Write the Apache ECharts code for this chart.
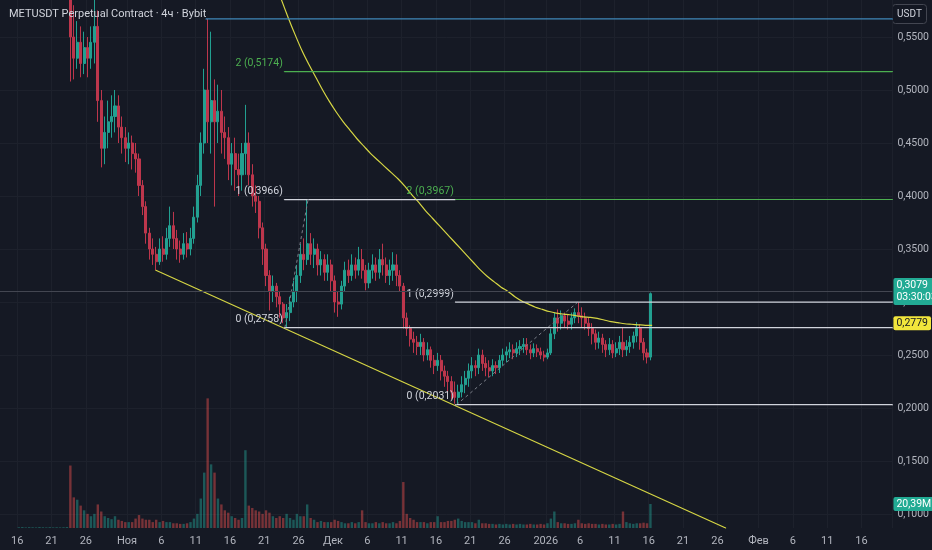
<!DOCTYPE html>
<html>
<head>
<meta charset="utf-8">
<title>METUSDT Perpetual Contract</title>
<script src="https://cdn.jsdelivr.net/npm/echarts@6.0.0/dist/echarts.min.js"></script>
<style>
  html, body { margin: 0; padding: 0; background: #151924; }
  #main { width: 932px; height: 550px; }
</style>
</head>
<body>
<div id="main"></div>
<script>
// time slots are 12h wide, the axis runs from firstSlot for slotCount slots
var firstSlot = '2025-10-13 12:00';
var slotCount = 260;
var monthNames = ['2026', 'Фев', 'Мар', 'Апр', 'Май', 'Июн', 'Июл', 'Авг', 'Сен', 'Окт', 'Ноя', 'Дек'];
var labelDays = [1, 6, 11, 16, 21, 26];
var priceTicks = [0.10, 0.15, 0.20, 0.25, 0.30, 0.35, 0.40, 0.45, 0.50, 0.55];

// [open, close, low, high] per 12h slot
var candleStart = '2025-10-23 12:00';
var candles = [
  [0.60,0.55,0.508,0.62],
  [0.55,0.53,0.51,0.58],[0.53,0.545,0.52,0.565],[0.545,0.525,0.512,0.56],[0.525,0.54,0.515,0.555],
  [0.54,0.53,0.512,0.55],[0.53,0.545,0.52,0.56],[0.545,0.56,0.525,0.59],[0.56,0.49,0.47,0.575],
  [0.49,0.445,0.427,0.50],[0.445,0.46,0.43,0.475],[0.46,0.47,0.445,0.49],[0.47,0.475,0.455,0.495],
  [0.475,0.485,0.46,0.50],[0.485,0.465,0.45,0.495],[0.465,0.455,0.44,0.475],[0.455,0.445,0.432,0.465],
  // Nov
  [0.445,0.45,0.43,0.46],[0.45,0.44,0.425,0.457],[0.44,0.435,0.422,0.45],[0.435,0.41,0.40,0.44],
  [0.41,0.39,0.382,0.415],[0.39,0.365,0.355,0.395],[0.365,0.35,0.34,0.37],[0.35,0.345,0.335,0.36],
  [0.345,0.338,0.33,0.352],[0.338,0.35,0.335,0.36],[0.35,0.345,0.338,0.362],[0.345,0.36,0.34,0.37],
  [0.36,0.372,0.352,0.39],[0.372,0.36,0.35,0.385],[0.36,0.35,0.34,0.368],[0.35,0.345,0.337,0.358],
  [0.345,0.355,0.34,0.365],[0.355,0.35,0.342,0.366],[0.35,0.36,0.344,0.37],[0.36,0.38,0.355,0.39],
  [0.38,0.41,0.375,0.42],[0.41,0.45,0.40,0.46],[0.45,0.50,0.44,0.52],[0.50,0.47,0.45,0.567],
  [0.47,0.49,0.44,0.555],[0.49,0.47,0.39,0.51],[0.47,0.48,0.45,0.505],[0.48,0.46,0.44,0.50],
  [0.46,0.455,0.435,0.475],[0.455,0.43,0.415,0.465],[0.43,0.44,0.41,0.45],[0.44,0.425,0.405,0.455],
  [0.425,0.42,0.40,0.44],[0.42,0.44,0.405,0.45],[0.44,0.45,0.42,0.486],[0.45,0.42,0.41,0.46],
  [0.42,0.40,0.39,0.43],[0.40,0.395,0.384,0.41],[0.395,0.37,0.36,0.40],[0.37,0.35,0.335,0.375],
  [0.35,0.325,0.315,0.355],[0.325,0.31,0.292,0.33],[0.31,0.315,0.30,0.325],[0.315,0.305,0.295,0.318],
  [0.305,0.298,0.285,0.31],[0.298,0.285,0.28,0.30],[0.285,0.29,0.2758,0.298],[0.29,0.30,0.282,0.305],
  [0.30,0.31,0.295,0.32],[0.31,0.325,0.30,0.335],[0.325,0.345,0.318,0.355],[0.345,0.34,0.33,0.36],
  [0.34,0.355,0.335,0.3966],[0.355,0.345,0.335,0.365],[0.345,0.35,0.332,0.36],[0.35,0.335,0.325,0.355],
  [0.335,0.34,0.325,0.348],[0.34,0.328,0.32,0.345],[0.328,0.335,0.32,0.345],[0.335,0.32,0.31,0.34],
  // Dec
  [0.32,0.30,0.29,0.325],[0.30,0.298,0.286,0.31],[0.298,0.315,0.293,0.32],[0.315,0.33,0.31,0.338],
  [0.33,0.325,0.318,0.34],[0.325,0.335,0.32,0.345],[0.335,0.33,0.322,0.342],[0.33,0.34,0.325,0.352],
  [0.34,0.33,0.322,0.35],[0.33,0.318,0.311,0.335],[0.318,0.33,0.313,0.337],[0.33,0.335,0.322,0.345],
  [0.335,0.328,0.32,0.342],[0.328,0.34,0.322,0.35],[0.34,0.335,0.325,0.355],[0.335,0.325,0.318,0.342],
  [0.325,0.33,0.316,0.34],[0.33,0.335,0.32,0.347],[0.335,0.325,0.315,0.345],[0.325,0.315,0.31,0.33],
  [0.315,0.285,0.275,0.318],[0.285,0.275,0.268,0.29],[0.275,0.265,0.258,0.278],[0.265,0.262,0.252,0.272],
  [0.262,0.258,0.25,0.268],[0.258,0.262,0.25,0.27],[0.262,0.25,0.244,0.266],[0.25,0.255,0.245,0.262],
  [0.255,0.245,0.238,0.258],[0.245,0.24,0.232,0.25],[0.24,0.245,0.235,0.252],[0.245,0.235,0.226,0.25],
  [0.235,0.23,0.22,0.24],[0.23,0.225,0.215,0.235],[0.225,0.215,0.208,0.23],[0.215,0.21,0.204,0.225],
  [0.21,0.215,0.2031,0.222],[0.215,0.222,0.21,0.23],[0.222,0.228,0.214,0.235],[0.228,0.235,0.22,0.242],
  [0.235,0.24,0.228,0.248],[0.24,0.238,0.23,0.245],[0.238,0.25,0.232,0.256],[0.25,0.242,0.235,0.255],
  [0.242,0.238,0.23,0.248],[0.238,0.235,0.229,0.245],[0.235,0.24,0.23,0.246],[0.24,0.238,0.232,0.244],
  [0.238,0.245,0.233,0.25],[0.245,0.25,0.24,0.256],[0.25,0.253,0.243,0.258],[0.253,0.255,0.247,0.262],
  [0.255,0.252,0.246,0.26],[0.252,0.256,0.248,0.262],[0.256,0.258,0.25,0.264],[0.258,0.26,0.252,0.266],
  [0.26,0.255,0.25,0.266],[0.255,0.252,0.246,0.26],[0.252,0.256,0.248,0.261],[0.256,0.253,0.248,0.26],
  [0.253,0.25,0.246,0.257],[0.25,0.248,0.244,0.254],
  // Jan
  [0.248,0.252,0.246,0.256],[0.252,0.27,0.25,0.275],[0.27,0.285,0.265,0.29],[0.285,0.28,0.272,0.293],
  [0.28,0.287,0.274,0.292],[0.287,0.282,0.276,0.29],[0.282,0.279,0.274,0.288],[0.279,0.285,0.274,0.29],
  [0.285,0.29,0.28,0.294],[0.29,0.287,0.28,0.2999],[0.287,0.285,0.276,0.295],[0.285,0.28,0.274,0.29],
  [0.28,0.275,0.268,0.285],[0.275,0.27,0.26,0.28],[0.27,0.262,0.255,0.274],[0.262,0.266,0.256,0.272],
  [0.266,0.26,0.252,0.27],[0.26,0.255,0.248,0.264],[0.255,0.26,0.25,0.266],[0.26,0.252,0.247,0.264],
  [0.252,0.256,0.248,0.262],[0.256,0.262,0.25,0.268],[0.262,0.255,0.248,0.276],[0.255,0.258,0.249,0.264],
  [0.258,0.262,0.252,0.268],[0.262,0.268,0.256,0.272],[0.268,0.275,0.262,0.281],[0.275,0.262,0.255,0.279],
  [0.262,0.252,0.245,0.266],[0.252,0.248,0.242,0.256],[0.248,0.3079,0.245,0.309]
];

// volume in millions per 12h slot
var volumeStart = '2025-10-16 00:00';
var volumes = [
  0.6,0.8,0.5,0.7,0.6,0.5,0.8,0.6,0.5,0.7,0.5,0.6,0.5,0.6,0.8,
  53,26,24,19,15,12,10,12,20,14,10,8.5,7.5,10,7,6,5,
  5,5,8,11,8,7,7,5,7,5,6,5,5,4,4,3.5,3.5,4,5,8,12,25,47,110,54,47,25,20,15,13,10,8.5,7,8.5,
  66,19,17,15,14,12,15,13,10,8.5,10,8.5,12,8.5,7,12,10,10,20,8.5,7,5,6,5,5,5,
  7,6,5,4,4,5,4,5,15,5,4,4,5,4,5,4,4,5,4,6,39,12,8.5,7,5,5,5,4,5,5,10,5,5,6,6,7,8,6,5,5,5,4,
  7,4,4,3.5,3.5,3,3.5,3,3.5,3,3.5,3,3.5,3,3,3.5,3,3,3.5,3,
  4,8,14,5,4,4,3.5,3.5,4,7,4,3.5,4,3.5,3.5,3,3.5,3,3,3.5,3,3.5,14,5,4,3.5,4,4,4.5,4,20.39
];

// moving average, one value per day (midday)
var maStart = '2025-11-21 12:00';
var maValues = [
  0.625,0.603,0.585,0.568,0.552,0.537,0.524,0.512,0.500,0.489,
  0.479,0.470,0.462,0.454,0.447,0.440,0.434,0.428,0.422,0.416,
  0.409,0.401,0.394,0.386,0.379,0.372,0.365,0.358,0.351,0.344,
  0.337,0.330,0.324,0.319,0.314,0.310,0.305,0.301,0.298,0.295,0.293,
  0.291,0.2895,0.2885,0.288,0.287,0.286,0.2855,0.2845,0.283,0.2815,
  0.2805,0.2795,0.279,0.2785,0.278,0.2779
];

// drawings: [date, price]
var trendLine = [['2025-11-05 05:00', 0.330], ['2026-01-27 05:00', 0.0868]];
var peakLine = ['2025-11-12 12:00', 0.567];
var fibOneSwing = [['2025-11-24 00:00', 0.2758], ['2025-11-27 09:00', 0.3966]];
var fibOneStart = '2025-11-23 22:00';
var fibOneLevels = [0.2758, 0.3966, 0.5174];
var fibTwoSwing = [['2025-12-19 00:00', 0.2031], ['2026-01-05 16:00', 0.2999]];
var fibTwoStart = '2025-12-18 20:00';
var fibTwoLevels = [0.2031, 0.2999, 0.3967];
var lastPrice = 0.3079;
var lastTimer = '03:30:03';
var lastMa = 0.2779;
var lastVolume = 20.39;

var DAY = 86400000;
var FONT = 'Roboto, "Noto Sans", sans-serif';
function toTime(s) {
  var p = s.split(/[- :]/);
  return Date.UTC(+p[0], +p[1] - 1, +p[2], +(p[3] || 0), +(p[4] || 0));
}
var t0 = toTime(firstSlot);
var origin = toTime('2025-10-16 00:00');
function slotOf(s) { return Math.round((toTime(s) - t0) / (DAY / 2)); }
function dayOf(s) { return (toTime(s) - origin) / DAY; }
var dayMin = (t0 - origin) / DAY;
var dayMax = dayMin + slotCount / 2;

var categories = [];
var labelPositions = [];
for (var i = 0; i < slotCount; i++) {
  var d = new Date(t0 + i * DAY / 2);
  categories.push(d.toISOString().slice(0, 13));
  if (d.getUTCHours() === 0 && labelDays.indexOf(d.getUTCDate()) >= 0) {
    labelPositions.push((d.getTime() - origin) / DAY);
  }
}
function isLabelSlot(index) {
  var d = new Date(t0 + index * DAY / 2);
  return d.getUTCHours() === 0 && labelDays.indexOf(d.getUTCDate()) >= 0;
}
function labelText(dayValue) {
  var d = new Date(origin + Math.round(dayValue) * DAY);
  if (d.getUTCDate() === 1) return monthNames[d.getUTCMonth()];
  return String(d.getUTCDate());
}
function fmt(v) { return v.toFixed(4).replace('.', ','); }

var upColor = '#22a091', downColor = '#bd364c';
var candleData = [], volumeData = [];
for (var k = 0; k < slotCount; k++) { candleData.push(['-', '-', '-', '-']); volumeData.push('-'); }
var cs = slotOf(candleStart);
candles.forEach(function (c, j) { candleData[cs + j] = c; });
var vs = slotOf(volumeStart);
volumes.forEach(function (v, j) {
  var c = candleData[vs + j];
  var down = c[0] !== '-' && c[1] < c[0];
  volumeData[vs + j] = {
    value: v,
    itemStyle: { color: down ? 'rgba(239,83,80,0.45)' : 'rgba(38,166,154,0.45)' }
  };
});
var maData = maValues.map(function (v, j) { return [dayOf(maStart) + j, v]; });

var white = '#d1d4dc', green = '#4caf50', yellow = '#d6d644';
// one drawing = a two point line on the hidden day axis
function drawing(points, col, width, dash, labelText) {
  var data = points.map(function (p) { return { value: p }; });
  if (labelText) {
    data[0].label = {
      show: true, position: 'left', distance: 1, offset: [0, -8],
      formatter: labelText, color: col, fontSize: 10.5, fontFamily: FONT
    };
  }
  return {
    type: 'line', xAxisIndex: 1, yAxisIndex: 0, silent: true,
    data: data,
    symbol: 'circle', symbolSize: 1, showSymbol: true,
    itemStyle: { color: col },
    lineStyle: { color: col, width: width, type: dash || 'solid' },
    label: { show: false },
    z: 4
  };
}
var drawSeries = [];
drawSeries.push(drawing([[dayOf(trendLine[0][0]), trendLine[0][1]], [dayOf(trendLine[1][0]), trendLine[1][1]]],
  yellow, 1.2));
drawSeries.push(drawing([[dayOf(peakLine[0]), peakLine[1]], [dayMax, peakLine[1]]], '#3f87b8', 1.2));
[fibOneSwing, fibTwoSwing].forEach(function (sw) {
  drawSeries.push(drawing([[dayOf(sw[0][0]), sw[0][1]], [dayOf(sw[1][0]), sw[1][1]]], '#7b7f89', 1, [3, 3]));
});
// the first tool's level 1 runs until the second tool takes over at the same price
fibOneLevels.forEach(function (v, n) {
  var col = n === 2 ? green : white;
  var end = n === 1 ? dayOf(fibTwoStart) : dayMax;
  drawSeries.push(drawing([[dayOf(fibOneStart), v], [end, v]], col, 1.2, null, n + ' (' + fmt(v) + ')'));
});
fibTwoLevels.forEach(function (v, n) {
  var col = n === 2 ? green : white;
  drawSeries.push(drawing([[dayOf(fibTwoStart), v], [dayMax, v]], col, 1.2, null, n + ' (' + fmt(v) + ')'));
});

var chart = echarts.init(document.getElementById('main'));
chart.setOption({
  backgroundColor: '#151924',
  animation: false,
  textStyle: { fontFamily: FONT },
  title: {
    text: 'METUSDT Perpetual Contract · 4ч · Bybit',
    left: 4, top: 4,
    textStyle: { color: '#d1d4dc', fontSize: 11, fontWeight: 'normal', fontFamily: FONT }
  },
  grid: { left: -1, right: 39, top: 0, bottom: 22, containLabel: false },
  xAxis: [{
    type: 'category',
    data: categories,
    boundaryGap: true,
    axisLine: { show: false },
    axisTick: { show: false, interval: function (i) { return isLabelSlot(i); } },
    axisLabel: { show: false, interval: function (i) { return isLabelSlot(i); } },
    splitLine: { show: true, interval: function (i) { return isLabelSlot(i); }, lineStyle: { color: '#1d212c', width: 1 } }
  }, {
    type: 'value', min: dayMin, max: dayMax, position: 'bottom',
    axisLine: { show: false },
    axisTick: { show: false },
    splitLine: { show: false },
    axisLabel: {
      customValues: labelPositions,
      formatter: function (v) { return labelText(v); },
      color: '#b2b5be', fontSize: 11, margin: 8, fontFamily: FONT
    }
  }],
  yAxis: [{
    type: 'value',
    position: 'right',
    min: 0.0868, max: 0.5849,
    axisLine: { show: false },
    axisTick: { show: false, customValues: priceTicks },
    axisLabel: {
      customValues: priceTicks,
      formatter: function (v) { return fmt(v); },
      color: '#b2b5be', fontSize: 10.5, margin: 5, fontFamily: FONT
    },
    splitLine: { show: true, lineStyle: { color: '#1d212c', width: 1 } }
  }, {
    type: 'value', min: 0, max: 448, show: false
  }],
  series: [{
    type: 'bar',
    name: 'Volume',
    xAxisIndex: 0, yAxisIndex: 1,
    data: volumeData,
    barWidth: '70%',
    markLine: {
      silent: true, symbol: ['none', 'none'],
      data: [{ yAxis: lastVolume, lineStyle: { color: 'transparent', width: 0 } }],
      label: {
        show: true, position: 'end', distance: 1,
        formatter: '20,39M', color: '#ffffff', backgroundColor: '#22ab94',
        padding: [2, 3, 1, 3], borderRadius: 2, fontSize: 10.5, fontFamily: FONT
      }
    }
  }, {
    type: 'candlestick',
    name: 'METUSDT',
    xAxisIndex: 0, yAxisIndex: 0,
    data: candleData,
    barWidth: '75%',
    itemStyle: { color: upColor, color0: downColor, borderColor: upColor, borderColor0: downColor, borderWidth: 1 },
    markLine: {
      silent: true, symbol: ['none', 'none'],
      data: [{ yAxis: lastPrice, lineStyle: { color: '#434651', width: 1, type: 'solid' } }],
      label: {
        show: true, position: 'end', distance: 1,
        formatter: fmt(lastPrice) + '\n' + lastTimer, color: '#ffffff', backgroundColor: '#22ab94',
        padding: [2, 3, 1, 3], borderRadius: 2, fontSize: 10.5, lineHeight: 12, fontFamily: FONT
      }
    }
  }, {
    type: 'line',
    name: 'MA',
    xAxisIndex: 1, yAxisIndex: 0,
    data: maData,
    symbol: 'none',
    smooth: 0.3,
    lineStyle: { color: yellow, width: 1.2 },
    markLine: {
      silent: true, symbol: ['none', 'none'],
      data: [{ yAxis: lastMa, lineStyle: { color: 'transparent', width: 0 } }],
      label: {
        show: true, position: 'end', distance: 1,
        formatter: fmt(lastMa), color: '#131722', backgroundColor: '#f2e63c',
        padding: [2, 3, 1, 3], borderRadius: 2, fontSize: 10.5, fontFamily: FONT
      }
    }
  }].concat(drawSeries),
  graphic: [{
    type: 'group', right: 5, top: 4,
    children: [{
      type: 'rect', shape: { x: 0, y: 0, width: 34, height: 19, r: 3 },
      style: { fill: '#131722', stroke: '#434651', lineWidth: 1 }
    }, {
      type: 'text', x: 17, y: 10,
      style: { text: 'USDT', fill: '#d1d4dc', fontSize: 10, fontFamily: FONT, align: 'center', verticalAlign: 'middle' }
    }]
  }]
});
</script>
</body>
</html>
